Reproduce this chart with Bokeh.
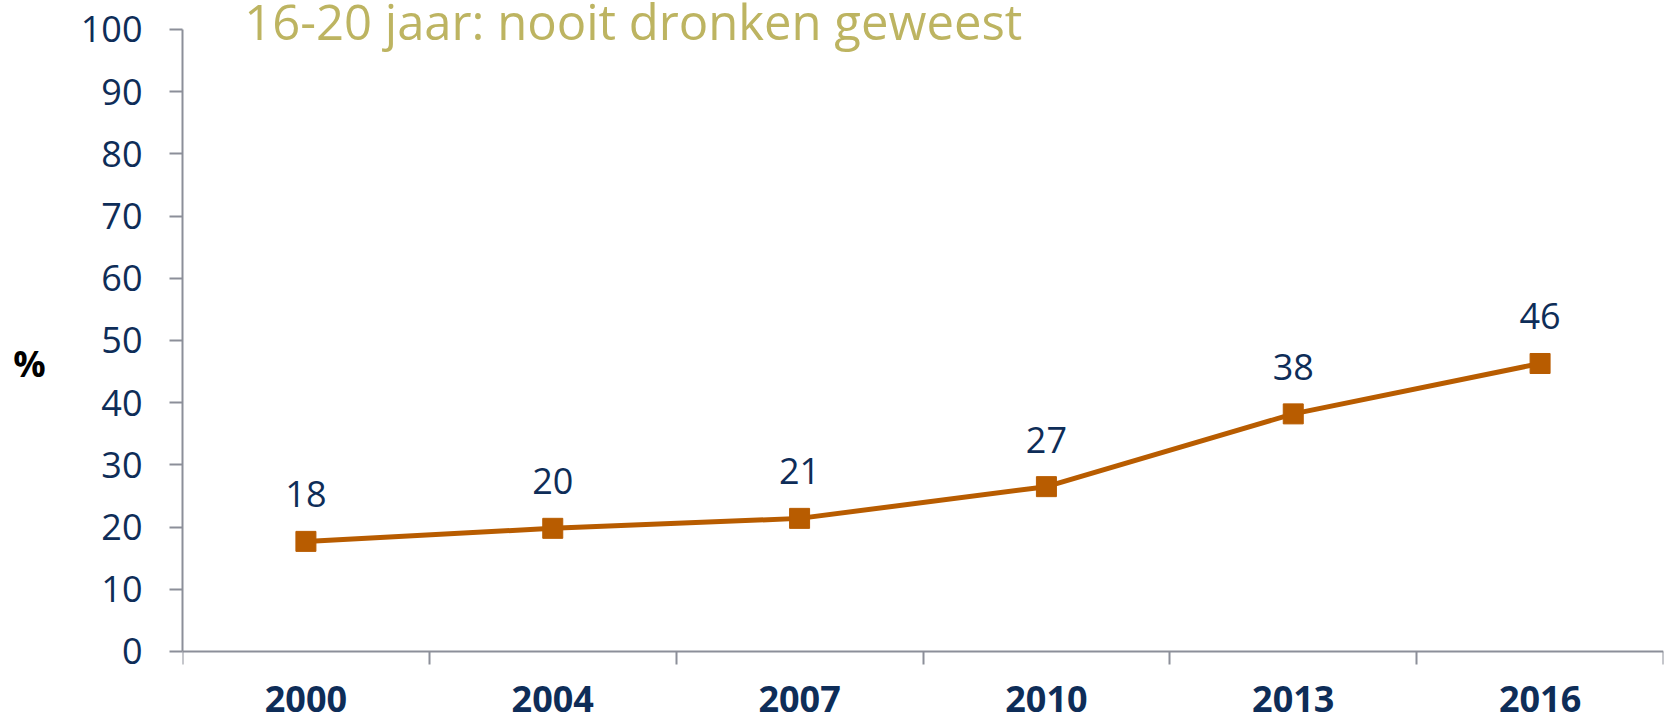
from bokeh.plotting import figure
from bokeh.models import Range1d, FixedTicker, Label
from bokeh.core.properties import value
from bokeh.embed import file_html
from bokeh.resources import INLINE

years = ["2000", "2004", "2007", "2010", "2013", "2016"]
values = [17.7, 19.8, 21.4, 26.5, 38.2, 46.3]
labels = ["18", "20", "21", "27", "38", "46"]
y_ticks = [0, 10, 20, 30, 40, 50, 60, 70, 80, 90, 100]

FONT = "Open Sans"
NAVY = "#0E2D58"
AXIS = "#8C8F99"
LINE = "#B85C00"
TITLE = "#BDB461"

xs = [i + 0.5 for i in range(len(years))]

p = figure(width=1665, height=725, output_backend="svg", toolbar_location=None,
           x_range=Range1d(0, len(years)), y_range=Range1d(-11.9, 104.66),
           min_border_left=182, min_border_right=2, min_border_top=0, min_border_bottom=0)
p.outline_line_color = None
p.background_fill_color = "white"
p.border_fill_color = "white"
p.xgrid.grid_line_color = None
p.ygrid.grid_line_color = None

# x axis (drawn at y = 0 inside the frame)
p.xaxis.fixed_location = 0
p.xaxis.ticker = FixedTicker(ticks=xs, minor_ticks=list(range(len(years) + 1)))
p.xaxis.major_label_overrides = {x: y for x, y in zip(xs, years)}
p.xaxis.major_tick_line_color = None
p.xaxis.major_tick_out = 0
p.xaxis.major_tick_in = 0
p.xaxis.minor_tick_out = 13
p.xaxis.minor_tick_in = 0
p.xaxis.minor_tick_line_color = AXIS
p.xaxis.minor_tick_line_width = 2
p.xaxis.axis_line_color = AXIS
p.xaxis.axis_line_width = 2
p.xaxis.major_label_text_font = FONT
p.xaxis.major_label_text_font_style = "bold"
p.xaxis.major_label_text_font_size = "36px"
p.xaxis.major_label_text_color = NAVY
p.xaxis.major_label_standoff = 22

# y axis
p.yaxis.bounds = (0, 100)
p.yaxis.ticker = FixedTicker(ticks=y_ticks, minor_ticks=[])
p.yaxis.major_tick_out = 13
p.yaxis.major_tick_in = 0
p.yaxis.major_tick_line_color = AXIS
p.yaxis.major_tick_line_width = 2
p.yaxis.axis_line_color = AXIS
p.yaxis.axis_line_width = 2
p.yaxis.major_label_text_font = FONT
p.yaxis.major_label_text_font_size = "36px"
p.yaxis.major_label_text_color = NAVY
p.yaxis.major_label_standoff = 27
p.yaxis.axis_label = "%"
p.yaxis.axis_label_orientation = "horizontal"
p.yaxis.axis_label_text_font = FONT
p.yaxis.axis_label_text_font_style = "bold"
p.yaxis.axis_label_text_font_size = "36px"
p.yaxis.axis_label_text_color = "black"
p.yaxis.axis_label_text_baseline = "top"
p.yaxis.axis_label_standoff = 32

p.line(xs, values, line_color=LINE, line_width=5)
p.scatter(xs, values, marker="square", size=20, fill_color=LINE, line_color=LINE)
p.text(xs, values, text=labels, text_font=value(FONT), text_font_size="36px",
       text_color=NAVY, text_align="center", text_baseline="middle", y_offset=-47)

title = Label(x=0.25, y=101.3, text="16-20 jaar: nooit dronken geweest",
              text_font=FONT, text_font_size="49px", text_color=TITLE,
              text_align="left", text_baseline="middle")
p.add_layout(title)

open("out.html", "w").write(file_html(p, INLINE))
